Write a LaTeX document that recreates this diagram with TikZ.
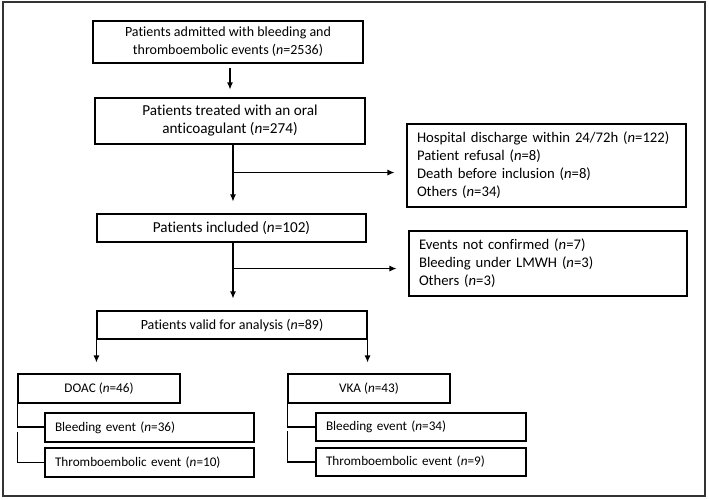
\documentclass[tikz,border=0pt]{standalone}
\usepackage{fontspec}
\setmainfont{Carlito}[Ligatures={NoCommon}]
\usetikzlibrary{arrows.meta}
\begin{document}
\begin{tikzpicture}[x=1pt,y=-1pt,
  box/.style={draw=black,line width=1.1pt,rectangle,inner sep=0pt,align=center,font=\fontsize{14}{18}\selectfont},
  lbox/.style={draw=black,line width=1.1pt,rectangle,inner sep=0pt,align=left,font=\fontsize{14.7}{18}\selectfont},
  sbox/.style={draw=black,line width=1.1pt,rectangle,inner sep=0pt,align=left,font=\fontsize{13.2}{16}\selectfont},
  conn/.style={line width=1.1pt,draw=black},
  arr/.style={conn,-{Latex[length=7pt,width=6pt]}}]
\useasboundingbox (0,0) rectangle (709,499);
\draw[line width=1.4pt,draw=black!80] (3,2) rectangle (705,496);
% main column
\node[box,minimum width=270pt,minimum height=42pt] (b1) at (228,42) {Patients admitted with bleeding and\\thromboembolic events (\textit{n}=2536)};
\node[box,minimum width=270pt,minimum height=46pt,font=\fontsize{15.2}{18}\selectfont] (b2) at (230,121) {Patients treated with an oral\\anticoagulant (\textit{n}=274)};
\node[box,minimum width=269pt,minimum height=28pt,font=\fontsize{15.2}{18}\selectfont] (b3) at (231.5,228) {Patients included (\textit{n}=102)};
\node[box,minimum width=270pt,minimum height=28pt] (b4) at (232,325) {Patients valid for analysis (\textit{n}=89)};
% exclusion boxes
\node[lbox,minimum width=279pt,minimum height=83pt,text width=259pt] (r1) at (546.5,165.5) {Hospital discharge within 24/72h (\textit{n}=122)\\Patient refusal (\textit{n}=8)\\Death before inclusion (\textit{n}=8)\\Others (\textit{n}=34)};
\node[lbox,minimum width=278pt,minimum height=65pt,text width=258pt] (r2) at (548,263.5) {Events not confirmed (\textit{n}=7)\\Bleeding under LMWH (\textit{n}=3)\\Others (\textit{n}=3)};
% groups
\node[box,font=\fontsize{13.2}{16}\selectfont,minimum width=162pt,minimum height=29pt] (doac) at (99,388.5) {DOAC (\textit{n}=46)};
\node[box,font=\fontsize{13.2}{16}\selectfont,minimum width=162pt,minimum height=29pt] (vka) at (369,388.5) {VKA (\textit{n}=43)};
\node[sbox,minimum width=209pt,minimum height=29pt,text width=189pt] (bl1) at (149.5,427.5) {Bleeding event (\textit{n}=36)};
\node[sbox,minimum width=209pt,minimum height=29pt,text width=189pt] (th1) at (149.5,462.5) {Thromboembolic event (\textit{n}=10)};
\node[sbox,minimum width=210pt,minimum height=28pt,text width=190pt] (bl2) at (421,427) {Bleeding event (\textit{n}=34)};
\node[sbox,minimum width=210pt,minimum height=28pt,text width=190pt] (th2) at (421,462) {Thromboembolic event (\textit{n}=9)};
% connectors
\draw[arr] ([xshift=2pt,yshift=-4pt]b1.south) -- ([xshift=0pt,yshift=8pt]b2.north);
\draw[arr] ([xshift=3pt]b2.south) -- ([xshift=1.5pt,yshift=12pt]b3.north);
\coordinate (j1) at ([xshift=3pt,yshift=-28pt]b2.south);
\draw[arr] (j1) -- ([xshift=-12pt]j1 -| r1.west);
\draw[arr] ([xshift=1.5pt]b3.south) -- ([xshift=1pt,yshift=12pt]b4.north);
\coordinate (j2) at ([xshift=1.5pt,yshift=-26pt]b3.south);
\draw[arr] (j2) -- ([xshift=-12pt]j2 -| r2.west);
\draw[arr] (b4.south west) -- ([yshift=11pt]b4.south west |- doac.north);
\draw[arr] (b4.south east) -- ([yshift=11pt]b4.south east |- vka.north);
\draw[conn] (doac.south west) |- ([yshift=0.5pt]bl1.west);
\draw[conn] ([yshift=-4.5pt]doac.south west |- bl1.west) |- (th1.west);
\draw[conn] (vka.south west) |- (bl2.west);
\draw[conn] ([yshift=-4pt]vka.south west |- bl2.west) |- (th2.west);
\end{tikzpicture}
\end{document}
